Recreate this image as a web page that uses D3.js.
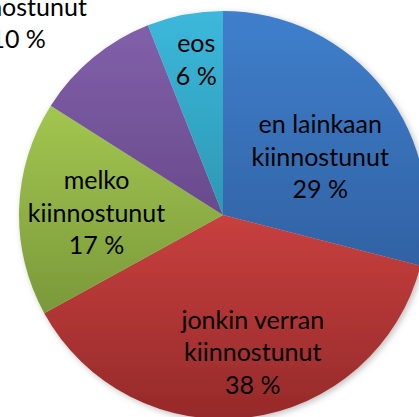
<!DOCTYPE html>
<html>
<head>
<meta charset="utf-8">
<script src="https://cdn.jsdelivr.net/npm/d3@7"></script>
<style>
  html, body { margin: 0; padding: 0; background: #fff; overflow: hidden; }
  text { font-family: Lato, "Open Sans", sans-serif; }
</style>
</head>
<body>
<div id="chart"></div>
<script>
// data
var categories = ["en lainkaan kiinnostunut", "jonkin verran kiinnostunut", "melko kiinnostunut", "erittäin kiinnostunut", "eos"];
var labelLines = [["en lainkaan", "kiinnostunut"], ["jonkin verran", "kiinnostunut"], ["melko", "kiinnostunut"], ["erittäin", "kiinnostunut"], ["eos"]];
var values = [29, 38, 17, 10, 6];

// look
var colorsTop = ["#3f7fcc", "#c8403e", "#a3c650", "#8160aa", "#3cb8dc"];
var colorsBottom = ["#3162a4", "#952a2a", "#7a993a", "#694a8c", "#2c98b3"];
// label placement: fraction of radius and angle nudge (degrees)
var labelRadius = [0.555, 0.69, 0.62, 1.43, 0.77];
var labelTurn = [7, -5, -1, -5, 1];

var width = 419,
    height = 417;

var cx = 223, cy = 215, radius = 204;
var fontSize = 25, lineHeight = 32.5;

var svg = d3.select("#chart")
    .append("svg")
    .attr("width", width)
    .attr("height", height);

var defs = svg.append("defs");

defs.append("filter")
    .attr("id", "shadow")
    .attr("x", "-10%").attr("y", "-10%")
    .attr("width", "130%").attr("height", "130%")
    .append("feDropShadow")
    .attr("dx", 2).attr("dy", 2)
    .attr("stdDeviation", 3)
    .attr("flood-color", "#000")
    .attr("flood-opacity", 0.25);

values.forEach(function (v, i) {
    var g = defs.append("linearGradient")
        .attr("id", "grad" + i)
        .attr("x1", 0).attr("y1", 0)
        .attr("x2", 0).attr("y2", 1);
    g.append("stop").attr("offset", "0%").attr("stop-color", colorsTop[i]);
    g.append("stop").attr("offset", "100%").attr("stop-color", colorsBottom[i]);
});

var pie = d3.pie()
    .sort(null)
    .value(function (d) { return d; });

var arcs = pie(values);

var arc = d3.arc()
    .innerRadius(0)
    .outerRadius(radius);

var g = svg.append("g")
    .attr("transform", "translate(" + cx + "," + cy + ")");

g.append("g")
    .attr("filter", "url(#shadow)")
    .selectAll("path")
    .data(arcs)
    .enter().append("path")
    .attr("d", arc)
    .attr("fill", function (d, i) { return "url(#grad" + i + ")"; });

var total = d3.sum(values);

var label = g.selectAll("text")
    .data(arcs)
    .enter().append("text")
    .attr("text-anchor", "middle")
    .attr("font-size", fontSize)
    .attr("fill", "#000")
    .attr("transform", function (d, i) {
        var a = (d.startAngle + d.endAngle) / 2 + labelTurn[i] * Math.PI / 180;
        var r = radius * labelRadius[i];
        return "translate(" + (r * Math.sin(a)) + "," + (-r * Math.cos(a)) + ")";
    });

label.each(function (d, i) {
    var lines = labelLines[i].concat([Math.round(d.data / total * 100) + " %"]);
    var t = d3.select(this);
    var first = -(lines.length - 1) / 2 * lineHeight + fontSize * 0.34;
    lines.forEach(function (s, k) {
        t.append("tspan")
            .attr("x", 0)
            .attr("y", first + k * lineHeight)
            .text(s);
    });
});
</script>
</body>
</html>
